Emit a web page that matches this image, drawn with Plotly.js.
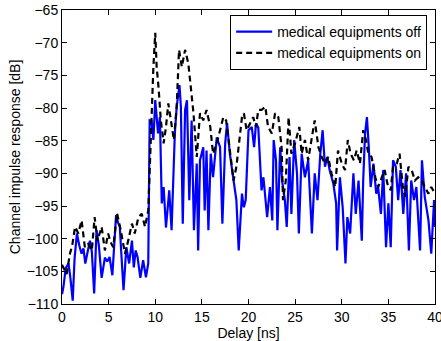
<!DOCTYPE html>
<html>
<head>
<meta charset="utf-8">
<script src="https://cdn.plot.ly/plotly-3.0.1.min.js"></script>
<style>html,body{margin:0;padding:0;background:#fff;}#chart{width:441px;height:341px;}</style>
</head>
<body>
<div id="chart"></div>
<script>
// Delay [ns] and channel impulse response [dB], medical equipments off
const delayOff = [0.0,0.15,0.4,0.7,0.9,1.15,1.35,1.6,1.85,2.1,2.3,2.5,2.75,3.0,3.2,3.45,3.7,3.95,4.25,4.6,4.85,5.1,5.4,5.8,6.0,6.2,6.35,6.6,6.9,7.2,7.5,7.7,7.9,8.1,8.4,8.7,9.0,9.25,9.4,9.6,9.8,10.0,10.3,10.5,10.7,10.9,11.15,11.5,11.75,12.1,12.3,12.6,12.75,12.95,13.2,13.4,13.65,13.9,14.15,14.45,14.6,14.8,15.15,15.3,15.5,15.7,15.95,16.2,16.6,16.95,17.2,17.5,17.7,18.0,18.4,18.7,18.95,19.3,19.5,19.7,20.0,20.35,20.6,20.8,21.05,21.4,21.6,22.0,22.3,22.55,22.7,22.95,23.1,23.4,23.6,23.9,24.1,24.4,24.6,24.9,25.2,25.4,25.7,26.05,26.4,26.8,27.1,27.4,27.7,27.95,28.2,28.45,28.7,29.1,29.4,29.5,29.8,30.1,30.4,30.6,30.9,31.25,31.5,31.8,32.15,32.3,32.5,32.7,32.9,33.1,33.4,33.7,33.9,34.2,34.45,34.75,35.0,35.25,35.5,35.8,36.05,36.3,36.6,36.9,37.2,37.45,37.75,38.0,38.4,38.6,38.9,39.3,39.6,39.9,40.0];
const cirOff = [-108.5,-107.4,-104.5,-103.8,-106,-109.5,-103,-99.2,-101,-102.3,-101.5,-103.8,-102,-100.3,-102,-108.4,-98.7,-101,-106,-102.9,-103.5,-102.8,-105.6,-96.4,-97.5,-98.2,-102,-107.9,-101.3,-103.8,-100.3,-104.4,-101.8,-102.8,-106,-103.3,-105.9,-103.8,-81.9,-82,-84.9,-78.8,-83.9,-81.4,-94.6,-92.1,-98.3,-92.6,-98.7,-83.9,-79.8,-76.5,-79.8,-97.7,-80.3,-78.8,-94.1,-81.9,-98.7,-88.5,-101.8,-88,-86,-95.7,-86.5,-98.7,-87,-90.6,-84.5,-86,-97.7,-85.4,-82.3,-87,-91.1,-94.1,-101.8,-93.1,-95.2,-94.1,-83.4,-82.9,-86,-82.4,-83,-92.6,-90.6,-96.7,-92.1,-97.2,-84.9,-88,-98.7,-86,-91.1,-94.1,-98.2,-87.5,-96.2,-84.9,-90,-99.2,-87,-90.6,-88,-99.2,-90,-94.1,-87,-83.4,-89,-87.5,-89.5,-91.6,-94.6,-101.8,-90.6,-95.2,-103.8,-96.7,-99.2,-90,-96.2,-91.1,-100.3,-91.1,-83.9,-81.4,-86,-92.1,-88.5,-93.1,-92.1,-96.2,-89.5,-101.3,-94.6,-101.3,-88,-89,-94.1,-89.5,-96.2,-90,-101.8,-91.1,-94.1,-92.1,-101.8,-88,-93.6,-97.2,-102.3,-94.1,-98.2];

// medical equipments on
const delayOn = [0.0,0.15,0.5,0.85,1.1,1.4,1.75,2.1,2.45,2.8,3.2,3.5,3.8,4.25,4.6,4.95,5.2,5.5,5.9,6.3,6.75,7.1,7.5,7.8,8.2,8.55,8.9,9.25,9.5,9.8,10.0,10.15,10.35,10.6,10.9,11.15,11.4,11.75,12.0,12.3,12.55,12.85,13.2,13.55,13.9,14.1,14.45,14.8,15.15,15.5,15.9,16.2,16.6,16.95,17.3,17.6,17.8,18.1,18.4,18.7,19.0,19.3,19.5,19.8,20.15,20.5,20.8,21.05,21.4,21.8,22.1,22.5,22.85,23.2,23.55,23.7,24.0,24.3,24.6,25.0,25.45,25.7,26.05,26.4,26.75,27.1,27.5,27.85,28.2,28.55,28.9,29.3,29.6,30.0,30.35,30.65,30.95,31.3,31.6,31.95,32.3,32.6,32.85,33.2,33.6,33.9,34.3,34.6,34.9,35.25,35.5,35.9,36.2,36.55,36.8,37.15,37.5,37.85,38.2,38.6,38.9,39.3,39.6,40.0];
const cirOn = [-104,-104.4,-105.4,-102.3,-101,-98.2,-99.2,-97.2,-101.3,-100.8,-101.8,-96.7,-100.3,-98.2,-101.8,-99.2,-100.5,-101.3,-96.1,-98.7,-102.3,-100.3,-97.7,-99.2,-96.7,-96.2,-98.2,-95.7,-84.9,-73.7,-68.5,-73.7,-76.8,-81.9,-85.4,-82.9,-79.3,-82.9,-84.9,-79.8,-71.1,-73.7,-71.1,-73.2,-77.8,-80.8,-87.5,-80.8,-81.9,-80.3,-82.9,-87,-85.4,-83.4,-81.4,-81.9,-84.4,-88,-91.1,-89,-85.4,-81.4,-80.8,-83.4,-82.4,-81.4,-82.9,-80.3,-80.3,-79.8,-82.9,-83.9,-80.8,-81.4,-86,-94.1,-91.1,-81.4,-87,-85.4,-82.9,-87,-84.9,-88,-84.9,-81.9,-86,-87.5,-88.5,-87.5,-90,-92.1,-86.5,-88.5,-89.5,-84.9,-87,-88,-86.5,-88.5,-83.4,-84.9,-87,-87.5,-90.6,-92.1,-90.6,-89.5,-91.6,-92.6,-89,-88.5,-87,-92.1,-93.6,-89,-89.5,-91.1,-90.6,-91.1,-92.1,-93.1,-92.1,-93.1];

const seriesNames = ['medical equipments off', 'medical equipments on'];
const xTicks = [0,5,10,15,20,25,30,35,40];
const yTicks = [-110,-105,-100,-95,-90,-85,-80,-75,-70,-65];

const font = {family: 'Liberation Sans, Arial, Helvetica, sans-serif', size: 14, color: '#000'};

const traces = [
  {x: delayOff, y: cirOff, name: seriesNames[0], mode: 'lines', type: 'scatter',
   line: {color: '#0000ff', width: 2.2}},
  {x: delayOn, y: cirOn, name: seriesNames[1], mode: 'lines', type: 'scatter',
   line: {color: '#000000', width: 2.2, dash: '6px,4px'}}
];

const axisCommon = {
  showgrid: false, zeroline: false, showline: true, linecolor: '#000', linewidth: 1,
  mirror: 'ticks', ticks: 'inside', ticklen: 5, tickcolor: '#000', tickwidth: 1,
  tickfont: font, ticklabeloverflow: 'allow'
};

const layout = {
  width: 441, height: 341,
  margin: {l: 62, r: 6, t: 10, b: 37},
  paper_bgcolor: '#fff', plot_bgcolor: '#fff',
  font: font,
  showlegend: true,
  legend: {x: 0.979, xanchor: 'right', y: 0.983, yanchor: 'top',
           bgcolor: '#fff', bordercolor: '#000', borderwidth: 1, font: font,
           tracegroupgap: 0, itemwidth: 36},
  xaxis: Object.assign({}, axisCommon, {range: [0, 40], tickvals: xTicks,
          title: {text: 'Delay [ns]', font: font, standoff: 0}}),
  yaxis: Object.assign({}, axisCommon, {range: [-110, -65], tickvals: yTicks,
          title: {text: 'Channel impulse response [dB]', font: font, standoff: 2}})
};

Plotly.newPlot('chart', traces, layout, {displayModeBar: false, staticPlot: true});
</script>
</body>
</html>
